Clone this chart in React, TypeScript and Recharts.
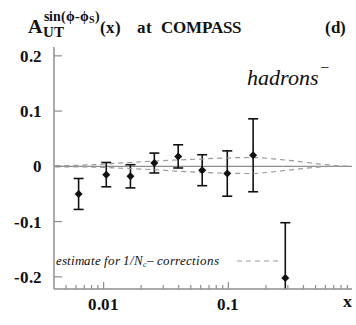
import React from 'react';
import { ComposedChart, XAxis, YAxis, Scatter, ErrorBar, ReferenceLine } from 'recharts';

// measured points (x bin centres, asymmetry, stat. error)
const xBins = [0.0063, 0.0105, 0.0164, 0.0255, 0.0396, 0.0617, 0.098, 0.158, 0.286];
const asym = [-0.05, -0.015, -0.018, 0.006, 0.018, -0.007, -0.013, 0.02, -0.202];
const asymErr = [0.028, 0.022, 0.021, 0.018, 0.021, 0.028, 0.041, 0.066, 0.1];

// 1/Nc correction band
const bandX = [0.0041, 0.0065, 0.01, 0.016, 0.025, 0.05, 0.08, 0.15, 0.3, 0.55, 0.8, 0.98];
const bandUpper = [0.001, 0.002, 0.004, 0.007, 0.0095, 0.0125, 0.0145, 0.016, 0.011, 0.004, 0.0005, 0];
const bandLower = [-0.001, -0.001, -0.002, -0.004, -0.006, -0.01, -0.012, -0.013, -0.007, -0.001, 0, 0];

const xTicks = [
  0.005, 0.006, 0.007, 0.008, 0.009,
  0.01, 0.02, 0.03, 0.04, 0.05, 0.06, 0.07, 0.08, 0.09,
  0.1, 0.2, 0.3, 0.4, 0.5, 0.6, 0.7, 0.8, 0.9,
];
const xMajor = [0.01, 0.1];
const xLabels = ['0.01', '0.1'];
const yTicks = [-0.2, -0.1, 0, 0.1, 0.2];
const yLabels = ['-0.2', '-0.1', '0', '0.1', '0.2'];

const points = xBins.map((x, i) => ({ x, y: asym[i], err: asymErr[i] }));
const upper = bandX.map((x, i) => ({ x, y: bandUpper[i] }));
const lower = bandX.map((x, i) => ({ x, y: bandLower[i] }));

const FRAME = '#8e8e8e';
const INK = '#111';
const X_DOMAIN = [0.004, 0.98];
const Y_DOMAIN = [-0.222, 0.216];

// serif faces looked up locally; the second family only has the regular face so bold gets synthesized if needed
const css = `
@font-face { font-family: 'PlotSerif'; font-weight: 400; font-style: normal;
  src: local('Liberation Serif'), local('LiberationSerif'), local('LiberationSerif-Regular'), local('DejaVu Serif'), local('DejaVuSerif'); }
@font-face { font-family: 'PlotSerif'; font-weight: 700; font-style: normal;
  src: local('Liberation Serif Bold'), local('LiberationSerif-Bold'), local('DejaVu Serif Bold'), local('DejaVuSerif-Bold'); }
@font-face { font-family: 'PlotSerif'; font-weight: 400; font-style: italic;
  src: local('Liberation Serif Italic'), local('LiberationSerif-Italic'), local('DejaVu Serif Italic'), local('DejaVuSerif-Italic'); }
@font-face { font-family: 'PlotSerifPlain'; font-weight: 400; font-style: normal;
  src: local('Liberation Serif'), local('LiberationSerif'), local('LiberationSerif-Regular'), local('DejaVu Serif'), local('DejaVuSerif'); }
.plot-text { font-family: 'PlotSerif', 'PlotSerifPlain', 'Liberation Serif', 'DejaVu Serif', serif; }
.recharts-errorBars { clip-path: url(#plotClip); }
`;

const BottomTick = (props: any) => {
  const { x, y, payload } = props;
  const k = xMajor.indexOf(payload.value);
  return (
    <g>
      <line x1={x} x2={x} y1={y} y2={y - (k >= 0 ? 7 : 4)} stroke={FRAME} strokeWidth={1.2} />
      {k >= 0 && (
        <text className="plot-text" x={x} y={y + 21} textAnchor="middle" fontWeight="bold" fontSize={17} fill={INK}>
          {xLabels[k]}
        </text>
      )}
    </g>
  );
};

const TopTick = (props: any) => {
  const { x, y, payload } = props;
  const major = xMajor.includes(payload.value);
  return <line x1={x} x2={x} y1={y} y2={y + (major ? 7 : 4)} stroke={FRAME} strokeWidth={1.2} />;
};

const LeftTick = (props: any) => {
  const { x, y, payload } = props;
  const k = yTicks.indexOf(payload.value);
  return (
    <g>
      <line x1={x} x2={x + 8} y1={y} y2={y} stroke={FRAME} strokeWidth={1.2} />
      <text className="plot-text" x={x - 12} y={y + 6} textAnchor="end" fontWeight="bold" fontSize={17} fill={INK}>
        {yLabels[k]}
      </text>
    </g>
  );
};

const RightTick = (props: any) => {
  const { x, y } = props;
  return <line x1={x} x2={x - 8} y1={y} y2={y} stroke={FRAME} strokeWidth={1.2} />;
};

const Diamond = (props: any) => {
  const { cx, cy } = props;
  const r = 4;
  return <polygon points={`${cx},${cy - r} ${cx + r},${cy} ${cx},${cy + r} ${cx - r},${cy}`} fill={INK} />;
};

const NoDot = () => <g />;

const dashLine = { stroke: '#9a9a9a', strokeDasharray: '5 4', strokeWidth: 1.2 };

export default function App() {
  return (
    <div style={{ position: 'absolute', left: 0, top: 0, width: 356, height: 325, background: '#fff' }}>
      <style>{css}</style>
      <ComposedChart width={356} height={325} margin={{ top: 47, right: 4, bottom: 0, left: 0 }}>
        <XAxis
          xAxisId="b"
          dataKey="x"
          type="number"
          scale="log"
          domain={X_DOMAIN}
          allowDataOverflow
          ticks={xTicks}
          interval={0}
          tickSize={0}
          tickMargin={0}
          tick={BottomTick}
          height={36}
          axisLine={{ stroke: FRAME, strokeWidth: 1.5 }}
        />
        <XAxis
          xAxisId="t"
          orientation="top"
          dataKey="x"
          type="number"
          scale="log"
          domain={X_DOMAIN}
          allowDataOverflow
          ticks={xTicks}
          interval={0}
          tickSize={0}
          tickMargin={0}
          tick={TopTick}
          height={0}
          axisLine={{ stroke: FRAME, strokeWidth: 1.5 }}
        />
        <YAxis
          yAxisId="l"
          type="number"
          domain={Y_DOMAIN}
          allowDataOverflow
          ticks={yTicks}
          interval={0}
          tickSize={0}
          tickMargin={0}
          tick={LeftTick}
          width={54}
          axisLine={{ stroke: FRAME, strokeWidth: 1.5 }}
        />
        <YAxis
          yAxisId="r"
          orientation="right"
          type="number"
          domain={Y_DOMAIN}
          allowDataOverflow
          ticks={yTicks}
          interval={0}
          tickSize={0}
          tickMargin={0}
          tick={RightTick}
          width={0}
          axisLine={{ stroke: FRAME, strokeWidth: 1.5 }}
        />
        <ReferenceLine xAxisId="b" yAxisId="l" y={0} stroke={FRAME} strokeWidth={1.2} />
        <Scatter
          xAxisId="b"
          yAxisId="l"
          data={upper}
          dataKey="y"
          line={dashLine}
          lineJointType="monotoneX"
          shape={NoDot}
          isAnimationActive={false}
        />
        <Scatter
          xAxisId="b"
          yAxisId="l"
          data={lower}
          dataKey="y"
          line={dashLine}
          lineJointType="monotoneX"
          shape={NoDot}
          isAnimationActive={false}
        />
        <Scatter xAxisId="b" yAxisId="l" data={points} dataKey="y" fill={INK} shape={Diamond} isAnimationActive={false}>
          <ErrorBar dataKey="err" direction="y" width={5} stroke={INK} strokeWidth={1.6} />
        </Scatter>
      </ComposedChart>
      <svg width={356} height={325} style={{ position: 'absolute', left: 0, top: 0, pointerEvents: 'none' }}>
        <defs>
          <clipPath id="plotClip" clipPathUnits="userSpaceOnUse">
            <rect x={54} y={47} width={298} height={242} />
          </clipPath>
        </defs>
        <g className="plot-text" fontWeight="bold" fill={INK}>
          <text x={28} y={33} fontSize={20}>A</text>
          <text x={43} y={37} fontSize={15}>UT</text>
          <text x={44} y={21} fontSize={13.5}>
            sin(ϕ-ϕ<tspan fontSize={10} dy={2}>S</tspan><tspan dy={-2}>)</tspan>
          </text>
          <text x={100} y={33} fontSize={17}>(x)</text>
          <text x={137} y={33} fontSize={17}>at</text>
          <text x={161} y={33} fontSize={17}>COMPASS</text>
          <text x={325} y={33} fontSize={17}>(d)</text>
          <text x={343} y={307} fontSize={18}>x</text>
        </g>
        <text className="plot-text" x={247} y={85} fontStyle="italic" fontSize={22} fill={INK}>hadrons</text>
        <text className="plot-text" x={321} y={71} fontSize={15} fill={INK}>–</text>
        <text className="plot-text" x={56} y={265} fontStyle="italic" fontSize={12.5} fill={INK}>
          estimate for 1/N<tspan fontSize={8} dy={2}>c</tspan><tspan dy={-2}>– corrections</tspan>
        </text>
        <line x1={237} x2={278} y1={261} y2={261} stroke="#9a9a9a" strokeWidth={1.2} strokeDasharray="5 4" />
      </svg>
    </div>
  );
}
